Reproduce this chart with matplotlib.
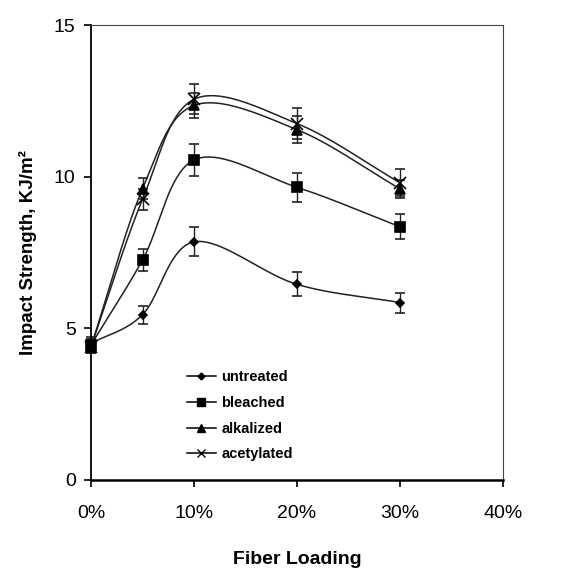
import numpy as np
import matplotlib.pyplot as plt
from matplotlib.lines import Line2D

plt.rcParams['font.family'] = ['Liberation Sans', 'DejaVu Sans']

loading = [0, 5, 10, 20, 30]
untreated = [4.5, 5.45, 7.85, 6.45, 5.85]
untreated_err = [0.2, 0.3, 0.48, 0.4, 0.33]
bleached = [4.45, 7.25, 10.55, 9.65, 8.35]
bleached_err = [0.2, 0.36, 0.52, 0.48, 0.42]
alkalized = [4.4, 9.6, 12.35, 11.55, 9.6]
alkalized_err = [0.2, 0.35, 0.4, 0.45, 0.3]
acetylated = [4.4, 9.25, 12.55, 11.75, 9.8]
acetylated_err = [0.2, 0.35, 0.5, 0.5, 0.45]

series = [
    ('untreated', untreated, untreated_err, 'D', 4, 3.5),
    ('bleached', bleached, bleached_err, 's', 7, 6),
    ('alkalized', alkalized, alkalized_err, '^', 7, 6),
    ('acetylated', acetylated, acetylated_err, 'x', 8, 6),
]


def smooth(x, y, n=40):
    # Excel style smoothed line (Catmull-Rom through the points)
    x = np.asarray(x, float)
    y = np.asarray(y, float)
    px = np.concatenate([[2 * x[0] - x[1]], x, [2 * x[-1] - x[-2]]])
    py = np.concatenate([[2 * y[0] - y[1]], y, [2 * y[-1] - y[-2]]])
    xs, ys = [], []
    t = np.linspace(0, 1, n)
    for i in range(1, len(px) - 2):
        p0, p1, p2, p3 = px[i - 1], px[i], px[i + 1], px[i + 2]
        q0, q1, q2, q3 = py[i - 1], py[i], py[i + 1], py[i + 2]
        t1 = (p2 - p0) / 6
        t2 = (p3 - p1) / 6
        u1 = (q2 - q0) / 6
        u2 = (q3 - q1) / 6
        bx = ((1 - t) ** 3 * p1 + 3 * (1 - t) ** 2 * t * (p1 + t1)
              + 3 * (1 - t) * t ** 2 * (p2 - t2) + t ** 3 * p2)
        by = ((1 - t) ** 3 * q1 + 3 * (1 - t) ** 2 * t * (q1 + u1)
              + 3 * (1 - t) * t ** 2 * (q2 - u2) + t ** 3 * q2)
        xs.extend(bx)
        ys.extend(by)
    return xs, ys


fig = plt.figure(figsize=(5.63, 5.71), dpi=100)
ax = fig.add_axes([91 / 563, 91 / 571, 412 / 563, 455 / 571])

handles = []
for name, vals, err, mk, ms, lms in series:
    sx, sy = smooth(loading, vals)
    ax.plot(sx, sy, color='#222222', lw=1.1)
    ax.errorbar(loading, vals, yerr=err, fmt=mk, color='black', ms=ms,
                mew=1.2, ecolor='#222222', elinewidth=1.0, capsize=3.5,
                clip_on=False)
    handles.append(Line2D([], [], color='black', lw=1.1, marker=mk, ms=lms,
                          mew=1.0, label=name))

ax.set_xlim(0, 40)
ax.set_ylim(0, 15)
ax.set_xticks([0, 10, 20, 30, 40])
ax.set_xticklabels(['0%', '10%', '20%', '30%', '40%'])
ax.set_yticks([0, 5, 10, 15])
ax.tick_params(labelsize=14, direction='out', length=5, width=1.2, pad=6)
ax.tick_params(axis='x', pad=13)
ax.spines['top'].set_color('#444444')
ax.spines['right'].set_color('#444444')
ax.spines['left'].set_linewidth(1.3)
ax.spines['bottom'].set_linewidth(1.8)

ax.set_ylabel('Impact Strength, KJ/m²', fontsize=13.5, fontweight='bold',
              labelpad=12)
ax.set_xlabel('Fiber Loading', fontsize=14, fontweight='bold', labelpad=21)

ax.legend(handles=handles, loc='upper left', bbox_to_anchor=(0.2, 0.27),
          frameon=False, prop={'size': 10.5, 'weight': 'bold'},
          handlelength=2.0, handletextpad=0.4, labelspacing=0.8)

fig.savefig('out.png', dpi=100)
